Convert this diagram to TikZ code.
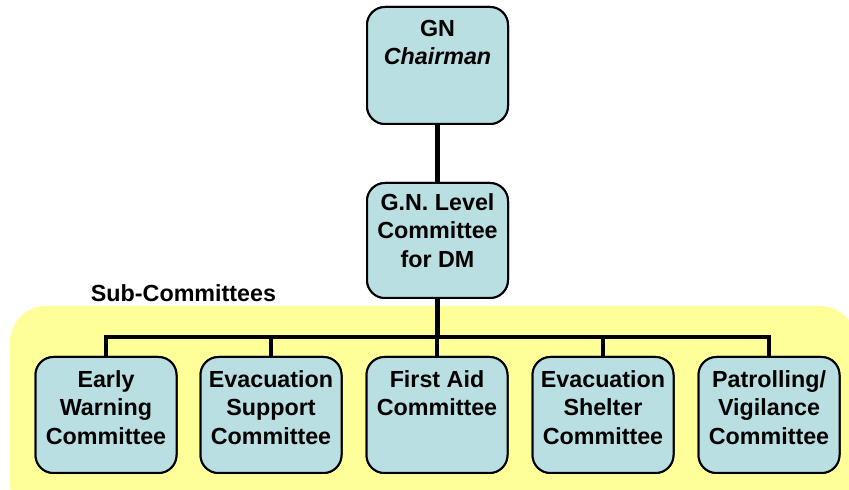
\documentclass[tikz,border=0pt]{standalone}
\usepackage{fontspec}
\setmainfont{Liberation Sans}
\definecolor{boxfill}{RGB}{185,223,227}
\definecolor{subyellow}{RGB}{255,255,153}
\tikzset{
  x=1pt,y=1pt,
  orgbox/.style={draw=black, line width=2pt, fill=boxfill, rounded corners=18pt,
    minimum width=141pt, inner sep=0pt},
  orgtext/.style={anchor=north, inner sep=0pt, align=center,
    font=\fontsize{23.3}{28.5}\selectfont\bfseries},
  link/.style={line width=4.6pt, line cap=rect, line join=miter}
}
\begin{document}
\begin{tikzpicture}
\useasboundingbox (0,0) rectangle (849,490);
% yellow sub-committee band
\fill[subyellow, rounded corners=36pt] (10,-30) rectangle (856,184);
\node[orgtext, anchor=base] (sublabel) at (183.5,188) {Sub-Committees};
% boxes
\node[orgbox, minimum height=117pt] (top) at (437.5,424.5) {};
\node[orgbox, minimum height=115pt] (mid) at (437.5,249.5) {};
\foreach \n/\x in {1/106,2/271,3/437,4/603,5/769}{
  \node[orgbox, minimum height=116pt] (b\n) at (\x,75) {};
}
% connectors
\coordinate (bus) at (437.5,153);
\draw[link] (top.south) -- (mid.north);
\draw[link] (mid.south) -- (bus);
\foreach \n in {1,...,5}{
  \draw[link] (bus) -| (b\n.north);
}
% redraw boxes on top of connector ends
\node[orgbox, minimum height=117pt] at (top) {};
\node[orgbox, minimum height=115pt] at (mid) {};
\foreach \n/\x in {1/106,2/271,3/437,4/603,5/769}{
  \node[orgbox, minimum height=116pt] at (b\n) {};
}
% texts
\node[orgtext] (ttop) at ([yshift=-14pt]top.north) {GN\\\textit{Chairman}};
\node[orgtext] (tmid) at ([yshift=-11pt]mid.north) {G.N. Level\\Committee\\for DM};
\node[orgtext] (t1) at ([yshift=-14pt]b1.north) {Early\\Warning\\Committee};
\node[orgtext] (t2) at ([yshift=-14pt]b2.north) {Evacuation\\Support\\Committee};
\node[orgtext] (t3) at ([yshift=-14pt]b3.north) {First Aid\\Committee};
\node[orgtext] (t4) at ([yshift=-14pt]b4.north) {Evacuation\\Shelter\\Committee};
\node[orgtext] (t5) at ([yshift=-14pt]b5.north) {Patrolling/\\Vigilance\\Committee};
\end{tikzpicture}
\end{document}
